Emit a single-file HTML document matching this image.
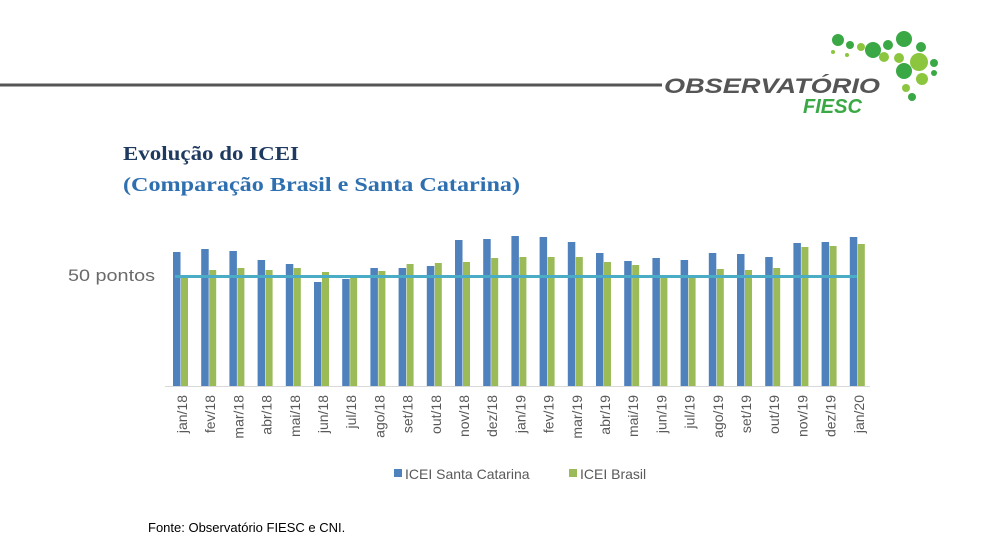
<!DOCTYPE html>
<html><head><meta charset="utf-8"><style>
body{margin:0;background:#fff;width:988px;height:553px;overflow:hidden}
svg{display:block}
.t{font-family:"Liberation Sans",sans-serif;font-size:14px;fill:#595959}
.b{fill:#4f81bd}.g{fill:#9bbb59}
</style></head><body>
<svg width="988" height="553" viewBox="0 0 988 553">
<line x1="0" y1="85" x2="662" y2="85" stroke="#555" stroke-width="3"/>
<g>
<circle cx="838" cy="40" r="6" fill="#3aa845"/><circle cx="850" cy="45" r="4" fill="#3aa845"/>
<circle cx="861" cy="47" r="4" fill="#8cc63f"/><circle cx="873" cy="50" r="8" fill="#3aa845"/>
<circle cx="888" cy="45" r="5" fill="#3aa845"/><circle cx="904" cy="39" r="8" fill="#3aa845"/>
<circle cx="921" cy="47" r="5" fill="#3aa845"/><circle cx="884" cy="57" r="5" fill="#8cc63f"/>
<circle cx="899" cy="58" r="5" fill="#8cc63f"/><circle cx="919" cy="62" r="9" fill="#8cc63f"/>
<circle cx="934" cy="63" r="4" fill="#3aa845"/><circle cx="904" cy="71" r="8" fill="#3aa845"/>
<circle cx="922" cy="79" r="6" fill="#8cc63f"/><circle cx="934" cy="73" r="3" fill="#3aa845"/>
<circle cx="906" cy="88" r="4" fill="#8cc63f"/><circle cx="912" cy="97" r="4" fill="#3aa845"/>
<circle cx="833" cy="52" r="2" fill="#8cc63f"/><circle cx="847" cy="55" r="2" fill="#8cc63f"/>
</g>
<text x="664" y="93" font-family="Liberation Sans,sans-serif" font-size="21" font-weight="bold" font-style="italic" fill="#555" textLength="216" lengthAdjust="spacingAndGlyphs">OBSERVATÓRIO</text>
<text x="803" y="113" font-family="Liberation Sans,sans-serif" font-size="20" font-weight="bold" font-style="italic" fill="#3aa845">FIESC</text>
<text x="123" y="160" font-family="Liberation Serif,serif" font-size="20" font-weight="bold" fill="#1f3a5f" textLength="176" lengthAdjust="spacingAndGlyphs">Evolução do ICEI</text>
<text x="123" y="191" font-family="Liberation Serif,serif" font-size="20" font-weight="bold" fill="#2e6fb0" textLength="397" lengthAdjust="spacingAndGlyphs">(Comparação Brasil e Santa Catarina)</text>
<text x="68" y="281" font-family="Liberation Sans,sans-serif" font-size="17" fill="#6a6a6a" textLength="87" lengthAdjust="spacingAndGlyphs">50 pontos</text>
<line x1="165" y1="386.5" x2="870" y2="386.5" stroke="#d9d9d9" stroke-width="1"/>
<g class="b">
<rect x="173" y="252" width="7.5" height="134"/><rect x="201.2" y="249" width="7.5" height="137"/>
<rect x="229.4" y="251" width="7.5" height="135"/><rect x="257.6" y="260" width="7.5" height="126"/>
<rect x="285.8" y="264" width="7.5" height="122"/><rect x="314" y="282" width="7.5" height="104"/>
<rect x="342.2" y="279" width="7.5" height="107"/><rect x="370.4" y="268" width="7.5" height="118"/>
<rect x="398.6" y="268" width="7.5" height="118"/><rect x="426.8" y="266" width="7.5" height="120"/>
<rect x="455" y="240" width="7.5" height="146"/><rect x="483.2" y="239" width="7.5" height="147"/>
<rect x="511.4" y="236" width="7.5" height="150"/><rect x="539.6" y="237" width="7.5" height="149"/>
<rect x="567.8" y="242" width="7.5" height="144"/><rect x="596" y="253" width="7.5" height="133"/>
<rect x="624.2" y="261" width="7.5" height="125"/><rect x="652.4" y="258" width="7.5" height="128"/>
<rect x="680.6" y="260" width="7.5" height="126"/><rect x="708.8" y="253" width="7.5" height="133"/>
<rect x="737" y="254" width="7.5" height="132"/><rect x="765.2" y="257" width="7.5" height="129"/>
<rect x="793.4" y="243" width="7.5" height="143"/><rect x="821.6" y="242" width="7.5" height="144"/>
<rect x="849.8" y="237" width="7.5" height="149"/>
</g>
<g class="g">
<rect x="181" y="277" width="7" height="109"/><rect x="209.2" y="270" width="7" height="116"/>
<rect x="237.4" y="268" width="7" height="118"/><rect x="265.6" y="270" width="7" height="116"/>
<rect x="293.8" y="268" width="7" height="118"/><rect x="322" y="272" width="7" height="114"/>
<rect x="350.2" y="277" width="7" height="109"/><rect x="378.4" y="271" width="7" height="115"/>
<rect x="406.6" y="264" width="7" height="122"/><rect x="434.8" y="263" width="7" height="123"/>
<rect x="463" y="262" width="7" height="124"/><rect x="491.2" y="258" width="7" height="128"/>
<rect x="519.4" y="257" width="7" height="129"/><rect x="547.6" y="257" width="7" height="129"/>
<rect x="575.8" y="257" width="7" height="129"/><rect x="604" y="262" width="7" height="124"/>
<rect x="632.2" y="265" width="7" height="121"/><rect x="660.4" y="277" width="7" height="109"/>
<rect x="688.6" y="277" width="7" height="109"/><rect x="716.8" y="269" width="7" height="117"/>
<rect x="745" y="270" width="7" height="116"/><rect x="773.2" y="268" width="7" height="118"/>
<rect x="801.4" y="247" width="7" height="139"/><rect x="829.6" y="246" width="7" height="140"/>
<rect x="857.8" y="244" width="7" height="142"/>
</g>
<line x1="175" y1="276.5" x2="857" y2="276.5" stroke="#4bacc6" stroke-width="3"/>
<g class="t" text-anchor="end">
<text transform="translate(187,395) rotate(-90)">jan/18</text>
<text transform="translate(215.2,395) rotate(-90)">fev/18</text>
<text transform="translate(243.4,395) rotate(-90)">mar/18</text>
<text transform="translate(271.6,395) rotate(-90)">abr/18</text>
<text transform="translate(299.8,395) rotate(-90)">mai/18</text>
<text transform="translate(328,395) rotate(-90)">jun/18</text>
<text transform="translate(356.2,395) rotate(-90)">jul/18</text>
<text transform="translate(384.4,395) rotate(-90)">ago/18</text>
<text transform="translate(412.6,395) rotate(-90)">set/18</text>
<text transform="translate(440.8,395) rotate(-90)">out/18</text>
<text transform="translate(469,395) rotate(-90)">nov/18</text>
<text transform="translate(497.2,395) rotate(-90)">dez/18</text>
<text transform="translate(525.4,395) rotate(-90)">jan/19</text>
<text transform="translate(553.6,395) rotate(-90)">fev/19</text>
<text transform="translate(581.8,395) rotate(-90)">mar/19</text>
<text transform="translate(610,395) rotate(-90)">abr/19</text>
<text transform="translate(638.2,395) rotate(-90)">mai/19</text>
<text transform="translate(666.4,395) rotate(-90)">jun/19</text>
<text transform="translate(694.6,395) rotate(-90)">jul/19</text>
<text transform="translate(722.8,395) rotate(-90)">ago/19</text>
<text transform="translate(751,395) rotate(-90)">set/19</text>
<text transform="translate(779.2,395) rotate(-90)">out/19</text>
<text transform="translate(807.4,395) rotate(-90)">nov/19</text>
<text transform="translate(835.6,395) rotate(-90)">dez/19</text>
<text transform="translate(863.8,395) rotate(-90)">jan/20</text>
</g>
<rect x="394" y="469" width="8" height="8" class="b"/>
<text x="405" y="479" class="t">ICEI Santa Catarina</text>
<rect x="569" y="469" width="8" height="8" class="g"/>
<text x="580" y="479" class="t">ICEI Brasil</text>
<text x="148" y="532" font-family="Liberation Sans,sans-serif" font-size="13" fill="#000">Fonte: Observatório FIESC e CNI.</text>
</svg>
</body></html>
